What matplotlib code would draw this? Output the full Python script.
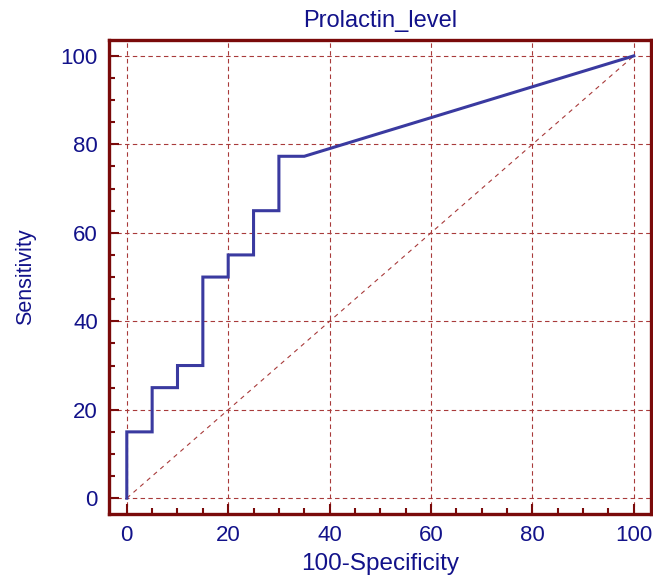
import matplotlib.pyplot as plt
from matplotlib.ticker import MultipleLocator

# ROC curve points (100-Specificity, Sensitivity)
fpr = [0, 0, 5, 5, 10, 10, 15, 15, 20, 20, 25, 25, 30, 30, 35, 100]
tpr = [0, 15, 15, 25, 25, 30, 30, 50, 50, 55, 55, 65, 65, 77.3, 77.3, 100]
ref_x = [0, 100]
ref_y = [0, 100]

title = "Prolactin_level"
xlabel = "100-Specificity"
ylabel = "Sensitivity"

frame_col = "#7a0a0a"
grid_col = "#a83a3a"
text_col = "#12128a"
line_col = "#3a3aa0"

plt.rcParams["font.family"] = ["Liberation Sans", "DejaVu Sans"]

fig = plt.figure(figsize=(6.53, 5.79), dpi=100)
ax = fig.add_axes([0.167, 0.112, 0.830, 0.819])

ax.plot(ref_x, ref_y, color=grid_col, lw=0.8, dashes=(4, 4))
ax.plot(fpr, tpr, color=line_col, lw=2.2, solid_joinstyle="miter")

ax.set_xlim(-3.5, 103.4)
ax.set_ylim(-3.6, 103.6)
ax.xaxis.set_major_locator(MultipleLocator(20))
ax.yaxis.set_major_locator(MultipleLocator(20))
ax.xaxis.set_minor_locator(MultipleLocator(5))
ax.yaxis.set_minor_locator(MultipleLocator(5))

ax.grid(True, which="major", color=grid_col, lw=0.8, dashes=(4, 3))

for s in ax.spines.values():
    s.set_color(frame_col)
    s.set_linewidth(2.4)

ax.tick_params(which="both", direction="in", color=frame_col, width=1.5,
               top=False, right=False)
ax.tick_params(which="major", length=7, labelsize=16, labelcolor=text_col, pad=8)
ax.tick_params(which="minor", length=4.5)

ax.set_title(title, color=text_col, fontsize=17, pad=9)
ax.set_xlabel(xlabel, color=text_col, fontsize=17.5, labelpad=5)
ax.set_ylabel(ylabel, color=text_col, fontsize=15.5, labelpad=18)

fig.savefig("out.png", dpi=100)
